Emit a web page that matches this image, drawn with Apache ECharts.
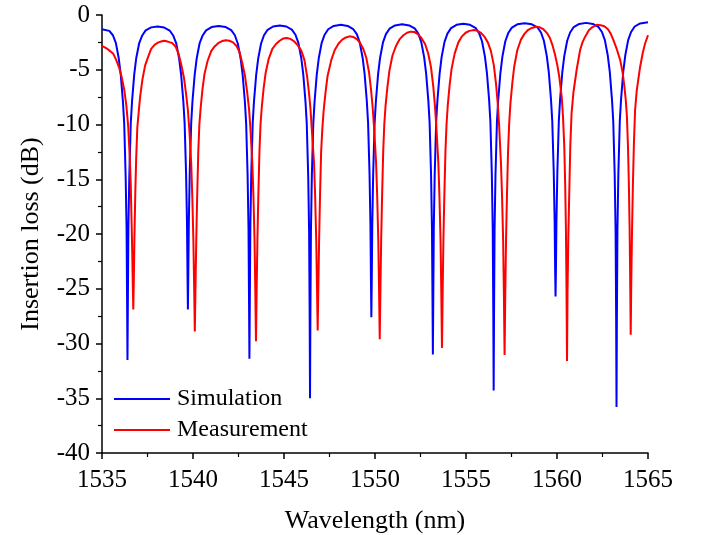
<!DOCTYPE html>
<html>
<head>
<meta charset="utf-8">
<script src="https://cdn.jsdelivr.net/npm/echarts@6/dist/echarts.min.js"></script>
<style>
html,body{margin:0;padding:0;background:#fff;}
#chart{width:701px;height:535px;}
</style>
</head>
<body>
<div id="chart"></div>
<script>
// Axis settings
const xTicks = [1535, 1540, 1545, 1550, 1555, 1560, 1565];
const yTicks = [-40, -35, -30, -25, -20, -15, -10, -5, 0];
const seriesNames = ['Simulation', 'Measurement'];

// Simulation: [wavelength (nm), insertion loss (dB)]
const simulation = [
[1535.00,-1.30],[1535.40,-1.45],[1535.60,-1.85],[1535.76,-2.55],[1535.92,-3.95],[1536.03,-5.45],[1536.15,-7.9],[1536.22,-9.9],[1536.30,-14.8],[1536.35,-19.5],[1536.38,-26.5],[1536.40,-31.5],[1536.42,-26.5],[1536.45,-19.5],[1536.50,-14.8],[1536.58,-9.9],[1536.65,-7.9],[1536.77,-5.45],[1536.88,-3.95],[1537.04,-2.6],[1537.20,-1.9],[1537.40,-1.4],[1537.70,-1.13],[1538.06,-1.05],
[1538.42,-1.15],[1538.72,-1.42],[1538.92,-1.9],[1539.08,-2.6],[1539.24,-4.0],[1539.35,-5.5],[1539.47,-7.9],[1539.54,-9.9],[1539.62,-14.5],[1539.67,-19],[1539.70,-24],[1539.72,-26.9],[1539.74,-24],[1539.77,-19],[1539.82,-14.5],[1539.90,-9.9],[1539.97,-7.9],[1540.09,-5.5],[1540.20,-4.0],[1540.36,-2.6],[1540.52,-1.9],[1540.72,-1.4],[1541.02,-1.1],[1541.41,-1.0],
[1541.80,-1.1],[1542.10,-1.38],[1542.30,-1.85],[1542.46,-2.6],[1542.62,-4.0],[1542.73,-5.5],[1542.85,-7.9],[1542.92,-9.9],[1543.00,-14.6],[1543.05,-19.5],[1543.08,-26.5],[1543.10,-31.4],[1543.12,-26.5],[1543.15,-19.5],[1543.20,-14.6],[1543.28,-9.9],[1543.35,-7.9],[1543.47,-5.5],[1543.58,-4.0],[1543.74,-2.6],[1543.90,-1.85],[1544.10,-1.35],[1544.40,-1.05],[1544.77,-0.95],
[1545.13,-1.05],[1545.43,-1.33],[1545.63,-1.8],[1545.79,-2.55],[1545.95,-3.95],[1546.06,-5.45],[1546.18,-7.9],[1546.25,-9.9],[1546.33,-14.7],[1546.38,-19.8],[1546.41,-27.5],[1546.43,-35.0],[1546.45,-27.5],[1546.48,-19.8],[1546.53,-14.7],[1546.61,-9.9],[1546.68,-7.9],[1546.80,-5.45],[1546.91,-3.95],[1547.07,-2.55],[1547.23,-1.8],[1547.43,-1.3],[1547.73,-1.0],[1548.12,-0.9],
[1548.50,-1.0],[1548.80,-1.28],[1549.00,-1.75],[1549.16,-2.5],[1549.32,-3.9],[1549.43,-5.4],[1549.55,-7.85],[1549.62,-9.85],[1549.70,-14.5],[1549.75,-19.2],[1549.78,-24.5],[1549.80,-27.6],[1549.82,-24.5],[1549.85,-19.2],[1549.90,-14.5],[1549.98,-9.85],[1550.05,-7.85],[1550.17,-5.4],[1550.28,-3.9],[1550.44,-2.5],[1550.60,-1.75],[1550.80,-1.25],[1551.10,-0.95],[1551.49,-0.85],
[1551.88,-0.95],[1552.18,-1.22],[1552.38,-1.7],[1552.54,-2.45],[1552.70,-3.85],[1552.81,-5.35],[1552.93,-7.8],[1553.00,-9.8],[1553.08,-14.6],[1553.13,-19.5],[1553.16,-26.3],[1553.18,-31.0],[1553.20,-26.3],[1553.23,-19.5],[1553.28,-14.6],[1553.36,-9.8],[1553.43,-7.8],[1553.55,-5.35],[1553.66,-3.85],[1553.82,-2.45],[1553.98,-1.7],[1554.18,-1.2],[1554.48,-0.9],[1554.85,-0.8],
[1555.22,-0.9],[1555.52,-1.17],[1555.72,-1.65],[1555.88,-2.4],[1556.04,-3.8],[1556.15,-5.3],[1556.27,-7.75],[1556.34,-9.75],[1556.42,-14.6],[1556.47,-19.7],[1556.50,-27.3],[1556.52,-34.3],[1556.54,-27.3],[1556.57,-19.7],[1556.62,-14.6],[1556.70,-9.75],[1556.77,-7.75],[1556.89,-5.3],[1557.00,-3.8],[1557.16,-2.4],[1557.32,-1.65],[1557.52,-1.15],[1557.82,-0.85],[1558.22,-0.75],
[1558.62,-0.85],[1558.92,-1.12],[1559.12,-1.6],[1559.28,-2.35],[1559.44,-3.75],[1559.55,-5.25],[1559.67,-7.7],[1559.74,-9.7],[1559.82,-14.3],[1559.87,-18.8],[1559.90,-23.5],[1559.92,-25.7],[1559.94,-23.5],[1559.97,-18.8],[1560.02,-14.3],[1560.10,-9.7],[1560.17,-7.7],[1560.29,-5.25],[1560.40,-3.75],[1560.56,-2.35],[1560.72,-1.6],[1560.92,-1.1],[1561.22,-0.82],[1561.60,-0.72],
[1561.97,-0.82],[1562.27,-1.08],[1562.47,-1.55],[1562.63,-2.3],[1562.79,-3.7],[1562.90,-5.2],[1563.02,-7.7],[1563.09,-9.7],[1563.17,-14.6],[1563.22,-19.8],[1563.25,-27.8],[1563.27,-35.8],[1563.29,-27.8],[1563.32,-19.8],[1563.37,-14.6],[1563.45,-9.7],[1563.52,-7.7],[1563.64,-5.2],[1563.75,-3.7],[1563.91,-2.3],[1564.07,-1.55],[1564.27,-1.05],[1564.57,-0.77],[1565.00,-0.67]
];

// Measurement: [wavelength (nm), insertion loss (dB)]
const measurement = [
[1535.00,-2.82],[1535.15,-2.95],[1535.30,-3.1],[1535.45,-3.3],[1535.62,-3.55],[1535.78,-4.1],[1535.94,-4.8],[1536.07,-5.6],[1536.22,-6.8],[1536.34,-8.3],[1536.44,-10.2],[1536.52,-12.8],[1536.58,-15.5],[1536.62,-18.5],[1536.66,-21.5],[1536.69,-24.5],[1536.72,-26.9],[1536.75,-24],[1536.78,-20.5],[1536.83,-16.2],[1536.88,-13],[1536.94,-10.3],[1537.02,-8.8],[1537.10,-7.4],[1537.22,-5.9],[1537.37,-4.6],[1537.52,-3.9],[1537.70,-3.1],[1537.90,-2.7],[1538.10,-2.5],[1538.25,-2.42],[1538.40,-2.36],[1538.55,-2.4],[1538.70,-2.48],
[1538.85,-2.55],[1539.05,-2.9],[1539.20,-3.5],[1539.35,-4.5],[1539.50,-5.7],[1539.62,-7.2],[1539.72,-8.7],[1539.80,-10.5],[1539.90,-13.5],[1539.96,-16.5],[1540.02,-20.5],[1540.06,-24.5],[1540.10,-28.9],[1540.14,-24.5],[1540.18,-20.5],[1540.23,-16.5],[1540.29,-12.5],[1540.35,-10],[1540.42,-8.5],[1540.52,-6.8],[1540.63,-5.4],[1540.80,-4.2],[1541.00,-3.3],[1541.20,-2.85],[1541.40,-2.55],[1541.60,-2.38],[1541.80,-2.3],[1542.00,-2.35],
[1542.20,-2.5],[1542.40,-2.85],[1542.56,-3.4],[1542.71,-4.4],[1542.86,-5.6],[1542.98,-7.1],[1543.08,-8.6],[1543.16,-10.5],[1543.26,-13.5],[1543.32,-16.5],[1543.38,-20.5],[1543.42,-24.8],[1543.46,-29.8],[1543.50,-24.8],[1543.54,-20.5],[1543.59,-16.5],[1543.65,-12.5],[1543.71,-10],[1543.78,-8.4],[1543.88,-6.7],[1543.99,-5.3],[1544.16,-4.0],[1544.36,-3.1],[1544.56,-2.65],[1544.76,-2.35],[1544.95,-2.15],[1545.15,-2.1],[1545.35,-2.18],
[1545.55,-2.4],[1545.75,-2.75],[1545.95,-3.25],[1546.12,-4.1],[1546.27,-5.6],[1546.38,-7.2],[1546.46,-8.7],[1546.53,-10.5],[1546.65,-13.5],[1546.71,-16.5],[1546.77,-20.5],[1546.81,-24.5],[1546.85,-28.8],[1546.89,-24.5],[1546.93,-20.5],[1546.98,-16.5],[1547.04,-12.5],[1547.11,-10.3],[1547.18,-8.7],[1547.28,-7.1],[1547.39,-5.6],[1547.60,-4.1],[1547.79,-3.2],[1548.00,-2.6],[1548.20,-2.25],[1548.40,-2.05],[1548.60,-1.95],[1548.80,-2.0],
[1549.00,-2.2],[1549.18,-2.55],[1549.36,-3.1],[1549.52,-3.9],[1549.67,-5.2],[1549.78,-6.8],[1549.87,-8.4],[1549.95,-10.3],[1550.06,-13.5],[1550.12,-16.5],[1550.18,-20.5],[1550.22,-24.8],[1550.26,-29.6],[1550.30,-24.8],[1550.34,-20.5],[1550.39,-16.5],[1550.45,-12.5],[1550.51,-10],[1550.58,-8.3],[1550.68,-6.6],[1550.79,-5.1],[1550.96,-3.7],[1551.16,-2.8],[1551.36,-2.2],[1551.56,-1.85],[1551.76,-1.62],[1551.96,-1.52],[1552.15,-1.55],
[1552.35,-1.75],[1552.55,-2.1],[1552.75,-2.65],[1552.92,-3.5],[1553.08,-4.8],[1553.20,-6.5],[1553.29,-8.2],[1553.37,-10.2],[1553.48,-13.5],[1553.54,-16.5],[1553.60,-20.5],[1553.64,-25],[1553.68,-30.4],[1553.72,-25],[1553.76,-20.5],[1553.81,-16.5],[1553.87,-12.5],[1553.93,-10],[1554.00,-8.2],[1554.10,-6.4],[1554.21,-4.9],[1554.38,-3.5],[1554.58,-2.5],[1554.78,-1.95],[1554.98,-1.62],[1555.18,-1.45],[1555.40,-1.38],[1555.60,-1.42],
[1555.80,-1.6],[1556.00,-1.95],[1556.20,-2.5],[1556.37,-3.3],[1556.53,-4.6],[1556.65,-6.3],[1556.74,-8.0],[1556.82,-10.1],[1556.92,-13.5],[1556.98,-16.5],[1557.04,-20.5],[1557.08,-25.2],[1557.12,-31.05],[1557.16,-25.2],[1557.20,-20.5],[1557.25,-16.5],[1557.31,-12.5],[1557.37,-10],[1557.44,-8.1],[1557.54,-6.3],[1557.65,-4.7],[1557.82,-3.2],[1558.02,-2.25],[1558.22,-1.7],[1558.42,-1.35],[1558.62,-1.18],[1558.85,-1.08],[1559.05,-1.12],
[1559.25,-1.3],[1559.45,-1.65],[1559.61,-2.1],[1559.76,-2.8],[1559.89,-3.6],[1560.02,-4.6],[1560.13,-5.7],[1560.26,-7.5],[1560.33,-9.3],[1560.40,-12],[1560.45,-15.5],[1560.49,-19.5],[1560.52,-24.5],[1560.55,-31.6],[1560.58,-25],[1560.62,-20.5],[1560.67,-16.5],[1560.73,-12],[1560.80,-9],[1560.90,-7.1],[1561.08,-5.0],[1561.27,-3.2],[1561.40,-2.5],[1561.54,-2.0],[1561.75,-1.4],[1561.95,-1.1],[1562.18,-0.9],[1562.40,-0.93],
[1562.60,-1.02],[1562.80,-1.3],[1562.95,-1.7],[1563.10,-2.3],[1563.28,-3.1],[1563.47,-4.1],[1563.60,-5.2],[1563.70,-6.5],[1563.78,-7.8],[1563.84,-9.2],[1563.90,-12],[1563.95,-15.5],[1563.99,-19.5],[1564.02,-24],[1564.05,-29.2],[1564.08,-24.5],[1564.12,-20],[1564.17,-15.5],[1564.23,-11.5],[1564.29,-8.7],[1564.38,-6.9],[1564.57,-4.7],[1564.72,-3.4],[1564.84,-2.6],[1565.00,-1.85]
];

const FONT = "'Liberation Serif', 'Times New Roman', serif";
const chart = echarts.init(document.getElementById('chart'), null, {renderer: 'canvas'});

const axisCommon = {
  axisLine: {show: true, onZero: false, lineStyle: {color: '#000', width: 1.5}},
  axisTick: {show: true, inside: false, length: 6, lineStyle: {color: '#000', width: 1.5}},
  minorTick: {show: true, splitNumber: 2, length: 4, lineStyle: {color: '#000', width: 1.2}},
  splitLine: {show: false},
  minorSplitLine: {show: false}
};

chart.setOption({
  animation: false,
  backgroundColor: '#fff',
  grid: {left: 102, right: 53, top: 15, bottom: 82, containLabel: false, outerBoundsMode: 'none'},
  legend: {
    data: seriesNames,
    orient: 'vertical',
    left: 114,
    top: 387,
    itemWidth: 56,
    itemHeight: 2,
    itemGap: 7,
    icon: 'rect',
    padding: 0,
    textStyle: {fontFamily: FONT, fontSize: 24, color: '#000', padding: [0, 0, 0, 2]}
  },
  xAxis: Object.assign({
    type: 'value',
    min: xTicks[0],
    max: xTicks[xTicks.length - 1],
    interval: 5,
    name: 'Wavelength (nm)',
    nameLocation: 'middle',
    nameGap: 55,
    nameTextStyle: {fontFamily: FONT, fontSize: 26, color: '#000'},
    axisLabel: {fontFamily: FONT, fontSize: 25, color: '#000', margin: 15,
      formatter: function (v) { return String(v); }}
  }, axisCommon),
  yAxis: Object.assign({
    type: 'value',
    min: yTicks[0],
    max: yTicks[yTicks.length - 1],
    interval: 5,
    name: 'Insertion loss (dB)',
    nameLocation: 'middle',
    nameGap: 58,
    nameTextStyle: {fontFamily: FONT, fontSize: 26, color: '#000'},
    axisLabel: {fontFamily: FONT, fontSize: 25, color: '#000', margin: 12,
      formatter: function (v) { return String(v); }}
  }, axisCommon),
  series: [
    {
      name: seriesNames[0],
      type: 'line',
      data: simulation,
      showSymbol: false,
      symbol: 'none',
      color: '#0000FF',
      lineStyle: {color: '#0000FF', width: 2},
      clip: true,
      z: 2
    },
    {
      name: seriesNames[1],
      type: 'line',
      data: measurement,
      showSymbol: false,
      symbol: 'none',
      color: '#FF0000',
      lineStyle: {color: '#FF0000', width: 2},
      clip: true,
      z: 3
    }
  ]
});
</script>
</body>
</html>
